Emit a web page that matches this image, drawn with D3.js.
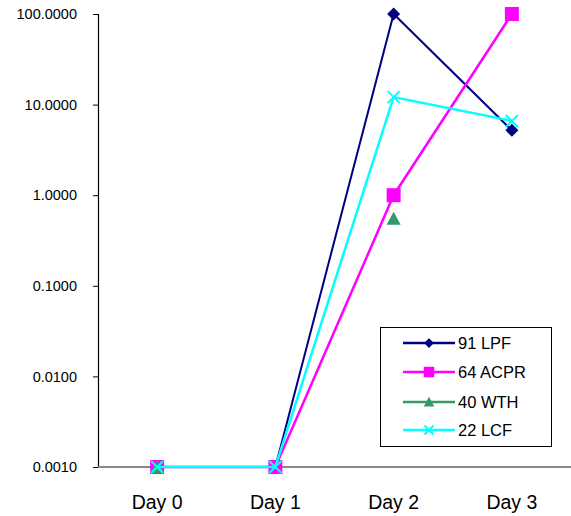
<!DOCTYPE html>
<html><head><meta charset="utf-8">
<script src="https://cdn.jsdelivr.net/npm/d3@7"></script>
<style>body{margin:0;background:#fff}svg{display:block}</style>
</head><body>
<svg id="c" width="571" height="516"></svg>
<script>
const categories = ["Day 0","Day 1","Day 2","Day 3"];
const seriesNames = ["91 LPF","64 ACPR","40 WTH","22 LCF"];
const lpf  = [0.001, 0.001, 100, 5.2];
const acpr = [0.001, 0.001, 1.0, 100];
const wth  = [0.001, null, 0.55, null];
const lcf  = [0.001, 0.001, 12.1, 6.6];
const yTicks = [100, 10, 1, 0.1, 0.01, 0.001];
const yTickLabels = ["100.0000","10.0000","1.0000","0.1000","0.0100","0.0010"];

const colors = ["#000080","#ff00ff","#339966","#00ffff"];
const symbols = ["diamond","square","triangle","x"];
const all = [lpf, acpr, wth, lcf];

const svg = d3.select("#c");
const x = d3.scalePoint().domain(categories).range([98, 571]).padding(0.5);
const y = d3.scaleLog().domain([0.001, 100]).range([467, 14]);
const font = "Liberation Sans, Arial, Helvetica, sans-serif";

// y axis
const yAxis = d3.axisLeft(y).tickValues(yTicks).tickFormat((d,i)=>yTickLabels[i]).tickSizeOuter(0).tickSize(5).tickPadding(16);
const ga = svg.append("g").attr("transform","translate(98,0)").call(yAxis);
ga.select(".domain").attr("stroke","#000").attr("stroke-width",1.2);
ga.selectAll(".tick line").attr("stroke","#000");
ga.selectAll(".tick text").attr("font-family",font).attr("font-size",14.5).attr("fill","#000");

// x baseline
svg.append("line").attr("x1",98).attr("x2",571).attr("y1",y(0.001)).attr("y2",y(0.001))
  .attr("stroke","#888").attr("stroke-width",2);

// x labels
svg.selectAll(".xl").data(categories).enter().append("text")
  .attr("x",d=>x(d)).attr("y",509).attr("text-anchor","middle")
  .attr("font-family",font).attr("font-size",19.5).attr("fill","#000").text(d=>d);

function marker(g, type, color, cx, cy, scale) {
  scale = scale || 1;
  if (type === "diamond") {
    const s = 6.5*scale;
    g.append("path").attr("d",`M${cx},${cy-s}L${cx+s},${cy}L${cx},${cy+s}L${cx-s},${cy}Z`).attr("fill",color);
  } else if (type === "square") {
    const s = 7*scale;
    g.append("rect").attr("x",cx-s).attr("y",cy-s).attr("width",2*s).attr("height",2*s).attr("fill",color);
  } else if (type === "triangle") {
    const s = 7*scale;
    g.append("path").attr("d",`M${cx},${cy-s}L${cx+s},${cy+s*0.85}L${cx-s},${cy+s*0.85}Z`).attr("fill",color);
  } else {
    const s = 6*scale;
    g.append("path").attr("d",`M${cx-s},${cy-s}L${cx+s},${cy+s}M${cx+s},${cy-s}L${cx-s},${cy+s}`)
      .attr("stroke",color).attr("stroke-width",2).attr("fill","none");
  }
}

const line = d3.line().defined(d=>d.v!=null).x(d=>x(d.c)).y(d=>y(d.v));
all.forEach((vals, si) => {
  const data = vals.map((v,i)=>({c:categories[i], v}));
  const g = svg.append("g");
  g.append("path").datum(data).attr("d",line).attr("fill","none")
    .attr("stroke",colors[si]).attr("stroke-width", si===0?2:2.5);
  data.filter(d=>d.v!=null).forEach(d=>marker(g, symbols[si], colors[si], x(d.c), y(d.v)));
});

// legend
const lg = svg.append("g");
lg.append("rect").attr("x",380.5).attr("y",327.5).attr("width",171).attr("height",119)
  .attr("fill","#fff").attr("stroke","#000").attr("stroke-width",1);
const ly = [343, 372, 402, 430];
seriesNames.forEach((n,i)=>{
  lg.append("line").attr("x1",403).attr("x2",455).attr("y1",ly[i]).attr("y2",ly[i])
    .attr("stroke",colors[i]).attr("stroke-width",2.5);
  marker(lg, symbols[i], colors[i], 429, ly[i], 0.75);
  lg.append("text").attr("x",458).attr("y",ly[i]+6).attr("font-family",font)
    .attr("font-size",16.5).attr("fill","#000").text(n);
});
</script>
</body></html>
